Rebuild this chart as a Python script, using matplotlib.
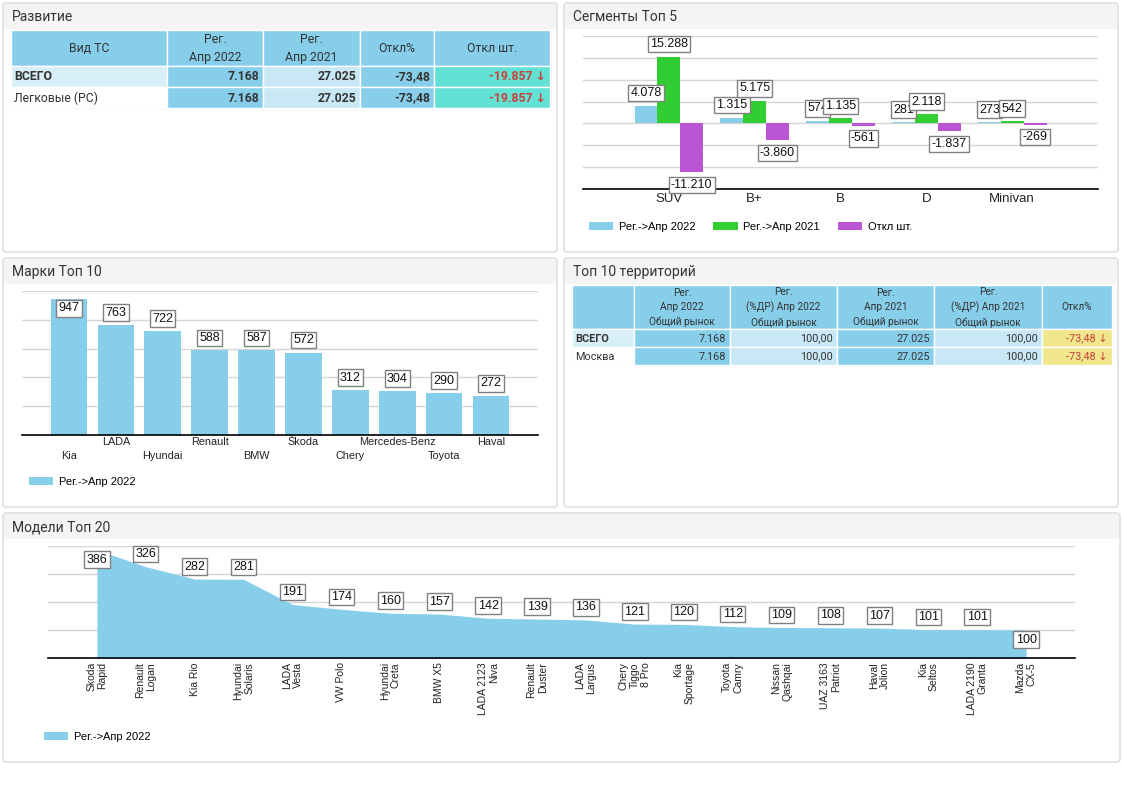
import matplotlib
matplotlib.use('Agg')
import matplotlib.pyplot as plt
from matplotlib.patches import Rectangle, FancyBboxPatch
import numpy as np

# --- данные ---
tbl1_header = ['Вид ТС', 'Рег.\nАпр 2022', 'Рег.\nАпр 2021', 'Откл%', 'Откл шт.']
tbl1_rows = ['ВСЕГО', 'Легковые (РС)']
tbl1_reg22 = ['7.168', '7.168']
tbl1_reg21 = ['27.025', '27.025']
tbl1_pct = ['-73,48', '-73,48']
tbl1_diff = ['-19.857', '-19.857']

seg_names = ['SUV', 'B+', 'B', 'D', 'Minivan']
seg_reg22 = [4078, 1315, 574, 281, 273]
seg_reg21 = [15288, 5175, 1135, 2118, 542]
seg_diff = [-11210, -3860, -561, -1837, -269]

brand_names = ['Kia', 'LADA', 'Hyundai', 'Renault', 'BMW', 'Škoda', 'Chery',
               'Mercedes-Benz', 'Toyota', 'Haval']
brand_reg22 = [947, 763, 722, 588, 587, 572, 312, 304, 290, 272]

tbl2_header = ['', 'Рег.\nАпр 2022\nОбщий рынок', 'Рег.\n(%ДР) Апр 2022\nОбщий рынок',
               'Рег.\nАпр 2021\nОбщий рынок', 'Рег.\n(%ДР) Апр 2021\nОбщий рынок', 'Откл%']
tbl2_rows = ['ВСЕГО', 'Москва']
tbl2_reg22 = ['7.168', '7.168']
tbl2_share22 = ['100,00', '100,00']
tbl2_reg21 = ['27.025', '27.025']
tbl2_share21 = ['100,00', '100,00']
tbl2_pct = ['-73,48', '-73,48']

model_names = ['Skoda\nRapid', 'Renault\nLogan', 'Kia Rio', 'Hyundai\nSolaris', 'LADA\nVesta',
               'VW Polo', 'Hyundai\nCreta', 'BMW X5', 'LADA 2123\nNiva', 'Renault\nDuster',
               'LADA\nLargus', 'Chery\nTiggo\n8 Pro', 'Kia\nSportage', 'Toyota\nCamry',
               'Nissan\nQashqai', 'UAZ 3163\nPatriot', 'Haval\nJolion', 'Kia\nSeltos',
               'LADA 2190\nGranta', 'Mazda\nCX-5']
model_reg22 = [386, 326, 282, 281, 191, 174, 160, 157, 142, 139, 136, 121, 120, 112,
               109, 108, 107, 101, 101, 100]

SKY = '#87ceeb'
LIGHT = '#c9e8f5'
PALE = '#d8eef8'
GREEN = '#32cd32'
PURPLE = '#ba55d3'
RED = '#c8413b'
GRID = '#d6d6d6'
TFONT = ['Roboto', 'DejaVu Sans']

plt.rcParams['font.family'] = ['Liberation Sans', 'DejaVu Sans']

W, H = 1122, 793
fig = plt.figure(figsize=(W / 100, H / 100), dpi=100)
bg = fig.add_axes([0, 0, 1, 1])
bg.set_xlim(0, W)
bg.set_ylim(H, 0)
bg.axis('off')


def px_axes(x0, y0, x1, y1):
    return fig.add_axes([x0 / W, 1 - y1 / H, (x1 - x0) / W, (y1 - y0) / H])


def panel(x0, y0, x1, y1, title):
    bg.add_patch(FancyBboxPatch((x0, y0), x1 - x0, y1 - y0,
                                boxstyle='round,pad=0,rounding_size=3',
                                fc='white', ec='#d9d9d9', lw=1))
    bg.add_patch(Rectangle((x0 + 1, y0 + 1), x1 - x0 - 2, 25, fc='#f4f4f4', ec='none'))
    bg.text(x0 + 9, y0 + 14, title, fontsize=10, color='#333333', family=TFONT, va='center')


def cell(x0, x1, y0, y1, fc, txt, ha='right', weight='normal', color='#333333', size=8.5, ls=1.45):
    bg.add_patch(Rectangle((x0, y0), x1 - x0, y1 - y0, fc=fc, ec='white', lw=1))
    if ha == 'right':
        tx = x1 - 4
    elif ha == 'left':
        tx = x0 + 3
    else:
        tx = (x0 + x1) / 2
    bg.text(tx, (y0 + y1) / 2 + 0.5, txt, ha=ha, va='center', ma='center', fontsize=size,
            fontweight=weight, color=color, family=TFONT, linespacing=ls)


def fmt(v):
    return f'{v:,}'.replace(',', '.')


def box_label(ax, x, y, v, off, size=9):
    ax.annotate(fmt(v), (x, y), xytext=(0, off), textcoords='offset points',
                ha='center', va='center', fontsize=size, color='#111111',
                bbox=dict(boxstyle='square,pad=0.18', fc='white', ec='#808080', lw=1),
                annotation_clip=False, zorder=5)


# --- панели ---
panel(3, 3, 557, 252, 'Развитие')
panel(564, 3, 1118, 252, 'Сегменты Топ 5')
panel(3, 258, 557, 507, 'Марки Топ 10')
panel(564, 258, 1118, 507, 'Топ 10 территорий')
panel(3, 513, 1120, 762, 'Модели Топ 20')

# --- таблица 1 ---
cols1 = [11, 167, 263, 360, 434, 550]
rows1 = [30, 66, 87, 108]
bg.add_patch(Rectangle((cols1[0], rows1[0]), cols1[-1] - cols1[0], rows1[-1] - rows1[0],
                       fc='none', ec='#dddddd', lw=1))
for j, h in enumerate(tbl1_header):
    cell(cols1[j], cols1[j + 1], rows1[0], rows1[1], SKY, h, ha='center', size=8.8)
for i, name in enumerate(tbl1_rows):
    y0, y1 = rows1[i + 1], rows1[i + 2]
    cell(cols1[0], cols1[1], y0, y1, PALE if i == 0 else 'white', name, ha='left',
         weight='bold' if i == 0 else 'normal', size=8.8)
    cell(cols1[1], cols1[2], y0, y1, SKY, tbl1_reg22[i], weight='bold', size=8.8)
    cell(cols1[2], cols1[3], y0, y1, LIGHT, tbl1_reg21[i], weight='bold', size=8.8)
    cell(cols1[3], cols1[4], y0, y1, SKY, tbl1_pct[i], weight='bold', size=8.8)
    cell(cols1[4], cols1[5], y0, y1, '#62e2d4', tbl1_diff[i] + ' ↓', weight='bold', color=RED, size=8.8)

# --- таблица 2 ---
cols2 = [572, 634, 730, 837, 934, 1042, 1112]
rows2 = [285, 329, 347, 365]
bg.add_patch(Rectangle((cols2[0], rows2[0]), cols2[-1] - cols2[0], rows2[-1] - rows2[0],
                       fc='none', ec='#dddddd', lw=1))
for j, h in enumerate(tbl2_header):
    cell(cols2[j], cols2[j + 1], rows2[0], rows2[1], SKY, h, ha='center', size=7.3, ls=1.5)
for i, name in enumerate(tbl2_rows):
    y0, y1 = rows2[i + 1], rows2[i + 2]
    cell(cols2[0], cols2[1], y0, y1, PALE if i == 0 else 'white', name, ha='left',
         weight='bold' if i == 0 else 'normal', size=7.8)
    cell(cols2[1], cols2[2], y0, y1, SKY, tbl2_reg22[i], size=7.8)
    cell(cols2[2], cols2[3], y0, y1, LIGHT, tbl2_share22[i], size=7.8)
    cell(cols2[3], cols2[4], y0, y1, SKY, tbl2_reg21[i], size=7.8)
    cell(cols2[4], cols2[5], y0, y1, LIGHT, tbl2_share21[i], size=7.8)
    cell(cols2[5], cols2[6], y0, y1, '#f0e68c', tbl2_pct[i] + ' ↓', color=RED, size=7.8)


def style_axes(ax, ymax, step, ymin=0):
    ax.set_facecolor('none')
    ax.set_ylim(ymin, ymax)
    ax.set_yticks(np.arange(ymin, ymax + 1, step))
    ax.yaxis.grid(True, color=GRID, lw=1)
    ax.set_axisbelow(True)
    ax.tick_params(axis='y', left=False, labelleft=False)
    ax.tick_params(axis='x', length=0)
    for s in ['left', 'right', 'top']:
        ax.spines[s].set_visible(False)
    ax.spines['bottom'].set_color('black')
    ax.spines['bottom'].set_linewidth(1.2)


# --- Сегменты Топ 5 ---
ax = px_axes(583, 36, 1098, 189)
style_axes(ax, 20000, 5000, ymin=-15000)
x = np.arange(len(seg_names))
w = 0.8 / 3
series = [(seg_reg22, SKY, 'Рег.->Апр 2022', -w),
          (seg_reg21, GREEN, 'Рег.->Апр 2021', 0),
          (seg_diff, PURPLE, 'Откл шт.', w)]
for vals, col, lab, dx in series:
    ax.bar(x + dx, vals, w, color=col, label=lab, zorder=2)
for vals, col, lab, dx in series:
    for xi, v in zip(x, vals):
        box_label(ax, xi + dx, v, v, 9 if v >= 0 else -9)
ax.set_xlim(-1, 5)
ax.set_xticks(x)
ax.set_xticklabels(seg_names, fontsize=9.5, color='#222222')
ax.tick_params(axis='x', pad=3)
ax.legend(loc='center left', bbox_to_anchor=(579 / W, 1 - 227 / H), bbox_transform=fig.transFigure,
          ncol=3, frameon=False, fontsize=8, handlelength=2.2, handleheight=0.8,
          handletextpad=0.5, columnspacing=1.6)

# --- Марки Топ 10 ---
ax = px_axes(22, 291, 538, 435)
style_axes(ax, 1000, 200)
xb = np.arange(len(brand_names))
ax.bar(xb, brand_reg22, 0.78, color=SKY, label='Рег.->Апр 2022', zorder=2)
for xi, v in zip(xb, brand_reg22):
    box_label(ax, xi, v, v, -7 if v > 0.92 * 1000 else 9)
ax.set_xlim(-1, 10)
ax.set_xticks(xb)
ax.set_xticklabels([n if i % 2 else '\n' + n for i, n in enumerate(brand_names)],
                   fontsize=7.8, color='#222222', linespacing=1.5)
ax.tick_params(axis='x', pad=1.5)
ax.legend(loc='center left', bbox_to_anchor=(19 / W, 1 - 482 / H), bbox_transform=fig.transFigure,
          frameon=False, fontsize=8, handlelength=2.2, handleheight=0.8, handletextpad=0.5)

# --- Модели Топ 20 ---
ax = px_axes(48, 546, 1075, 658)
style_axes(ax, 400, 100)
xm = np.arange(len(model_names))
ax.fill_between(xm, model_reg22, 0, color=SKY, lw=0, label='Рег.->Апр 2022', zorder=2)
for i, v in enumerate(model_reg22):
    box_label(ax, xm[i], v, v, -7 if (v > 0.92 * 400 or i == len(model_reg22) - 1) else 9)
ax.set_xlim(-1, 20)
ax.set_xticks(xm)
ax.set_xticklabels(model_names, fontsize=7.5, color='#222222', rotation=90,
                   va='top', ha='center', multialignment='right', linespacing=1.15)
ax.tick_params(axis='x', pad=3)
ax.legend(loc='center left', bbox_to_anchor=(34 / W, 1 - 737 / H), bbox_transform=fig.transFigure,
          frameon=False, fontsize=8, handlelength=2.2, handleheight=0.8, handletextpad=0.5)

fig.savefig('out.png', dpi=100, facecolor='white')
